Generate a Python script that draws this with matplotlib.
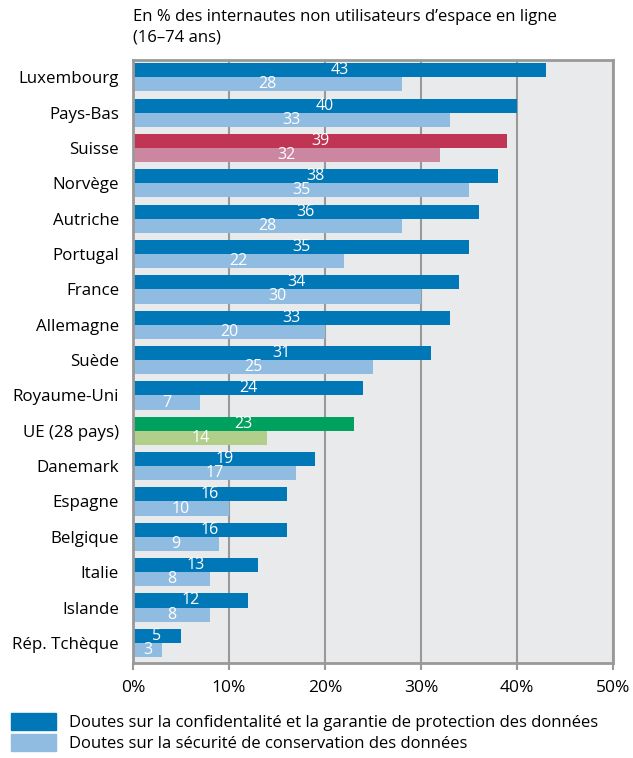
import numpy as np
import matplotlib
matplotlib.use("Agg")
import matplotlib.pyplot as plt

plt.rcParams["font.family"] = ["Open Sans", "DejaVu Sans"]

countries = ["Luxembourg", "Pays-Bas", "Suisse", "Norvège", "Autriche", "Portugal",
             "France", "Allemagne", "Suède", "Royaume-Uni", "UE (28 pays)", "Danemark",
             "Espagne", "Belgique", "Italie", "Islande", "Rép. Tchèque"]
privacy = [43, 40, 39, 38, 36, 35, 34, 33, 31, 24, 23, 19, 16, 16, 13, 12, 5]
storage = [28, 33, 32, 35, 28, 22, 30, 20, 25, 7, 14, 17, 10, 9, 8, 8, 3]

labels = ["Doutes sur la confidentalité et la garantie de protection des données",
          "Doutes sur la sécurité de conservation des données"]
title = "En % des internautes non utilisateurs d\u2019espace en ligne\n(16\u201374 ans)"

DARK = "#0077b6"
LIGHT = "#8fbce0"
special = {"Suisse": ("#c03554", "#cc87a0"), "UE (28 pays)": ("#00a05e", "#b1cf8b")}

fig = plt.figure(figsize=(6.33, 7.58), dpi=100)
ax = fig.add_axes([133 / 633, 1 - 663 / 758, 480 / 633, 603 / 758])
ax.set_facecolor("#e9eaec")

y = np.arange(len(countries))
h = 0.4
dark_cols = [special.get(c, (DARK, LIGHT))[0] for c in countries]
light_cols = [special.get(c, (DARK, LIGHT))[1] for c in countries]
ax.barh(y - h / 2, privacy, height=h, color=dark_cols, zorder=2)
ax.barh(y + h / 2, storage, height=h, color=light_cols, zorder=2)

for yi, v in zip(y, privacy):
    ax.text(v / 2, yi - h / 2, str(v), color="white", ha="center", va="center",
            fontsize=11.5, zorder=3)
for yi, v in zip(y, storage):
    ax.text(v / 2, yi + h / 2, str(v), color="white", ha="center", va="center",
            fontsize=11.5, zorder=3)

ax.set_xlim(0, 50)
ax.set_ylim(16.57, -0.49)
ax.set_xticks(np.arange(0, 51, 10))
ax.set_xticklabels([f"{t}%" for t in range(0, 51, 10)], fontsize=12.5)
ax.set_yticks(y)
ax.set_yticklabels(countries, fontsize=12.2)
ax.tick_params(axis="y", length=0, pad=10)
ax.tick_params(axis="x", length=5, width=1.5, color="#999999", pad=7, direction="out")
ax.grid(axis="x", color="#999999", lw=1.5, zorder=1)
for s in ax.spines.values():
    s.set_color("#999999")
    s.set_linewidth(2)

fig.text(133 / 633, 1 - 9 / 758, title, ha="left", va="top", fontsize=12,
         linespacing=1.4)

handles = [plt.Rectangle((0, 0), 1, 1, color=DARK), plt.Rectangle((0, 0), 1, 1, color=LIGHT)]
fig.legend(handles, labels, loc="upper left", bbox_to_anchor=(4 / 633, 1 - 706 / 758),
           frameon=False, fontsize=12, handlelength=2.7, handleheight=1.2,
           labelspacing=0.2, handletextpad=0.8, borderaxespad=0)

fig.savefig("out.png", dpi=100)
